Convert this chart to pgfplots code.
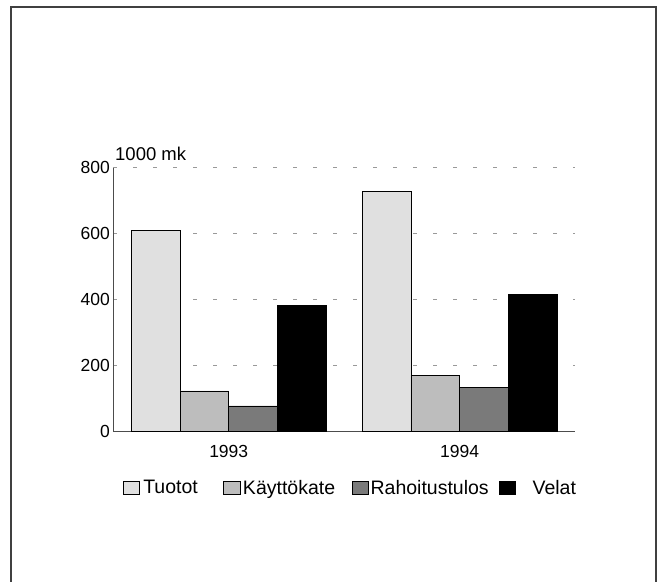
\documentclass[border=0pt]{standalone}
\usepackage{fontspec}
\setmainfont{Liberation Sans}
\usepackage{pgfplots}
\pgfplotsset{compat=1.18}
\begin{document}
\begin{tikzpicture}[x=1pt,y=1pt]
\path[use as bounding box] (0,0) rectangle (658,581);
\draw[line width=1.4pt, black!75] (11,-5) -- (11,574) -- (656,574) -- (656,-5);
\begin{axis}[
  at={(113.3pt,150pt)}, anchor=south west,
  scale only axis, width=461.7pt, height=263.3pt,
  xmin=-0.5, xmax=1.5, ymin=0, ymax=800,
  ybar=0pt, bar width=0.211,
  axis x line=bottom, axis y line=left,
  axis line style={-, black!70, line width=0.8pt},
  x axis line style={-}, y axis line style={-},
  xtick={0,1}, xticklabels={1993,1994},
  ytick={0,200,400,600,800},
  major tick length=0pt,
  ymajorgrids, grid style={black!40, line width=0.6pt, dash pattern=on 4pt off 16pt},
  tick label style={font=\fontsize{17.5}{20}\selectfont},
  xticklabel style={yshift=-11pt},
  /pgf/number format/assume math mode=true,
  /pgf/number format/1000 sep={},
  legend columns=-1,
  legend style={at={(0.021,-0.2165)}, anchor=west, draw=none, fill=none,
    inner sep=0pt, outer sep=0pt, font=\fontsize{19.5}{22}\selectfont,
    /tikz/column sep=0pt, nodes={inner sep=0pt}},
  legend image code/.code={\draw[#1] (0pt,-6.5pt) rectangle (16.5pt,6.5pt);},
]
\addplot[draw=black, line width=0.5pt, fill=black!12] coordinates {(0,610) (1,728)};
\addplot[draw=black, line width=0.5pt, fill=black!26] coordinates {(0,122) (1,170)};
\addplot[draw=black, line width=0.5pt, fill=black!52] coordinates {(0,76) (1,132)};
\addplot[draw=black, line width=0.5pt, fill=black] coordinates {(0,382) (1,416)};
\legend{\makebox[83.3pt][l]{\hspace{3.3pt}Tuotot},
        \makebox[111.7pt][l]{\hspace{2.7pt}Käyttökate},
        \makebox[129.9pt][l]{\hspace{1.6pt}Rahoitustulos},
        \makebox[60pt][l]{\hspace{16.7pt}Velat}}
\end{axis}
\node[anchor=base west, inner sep=0pt, font=\fontsize{18.5}{20}\selectfont] at (115,420) {1000 mk};
\end{tikzpicture}
\end{document}
